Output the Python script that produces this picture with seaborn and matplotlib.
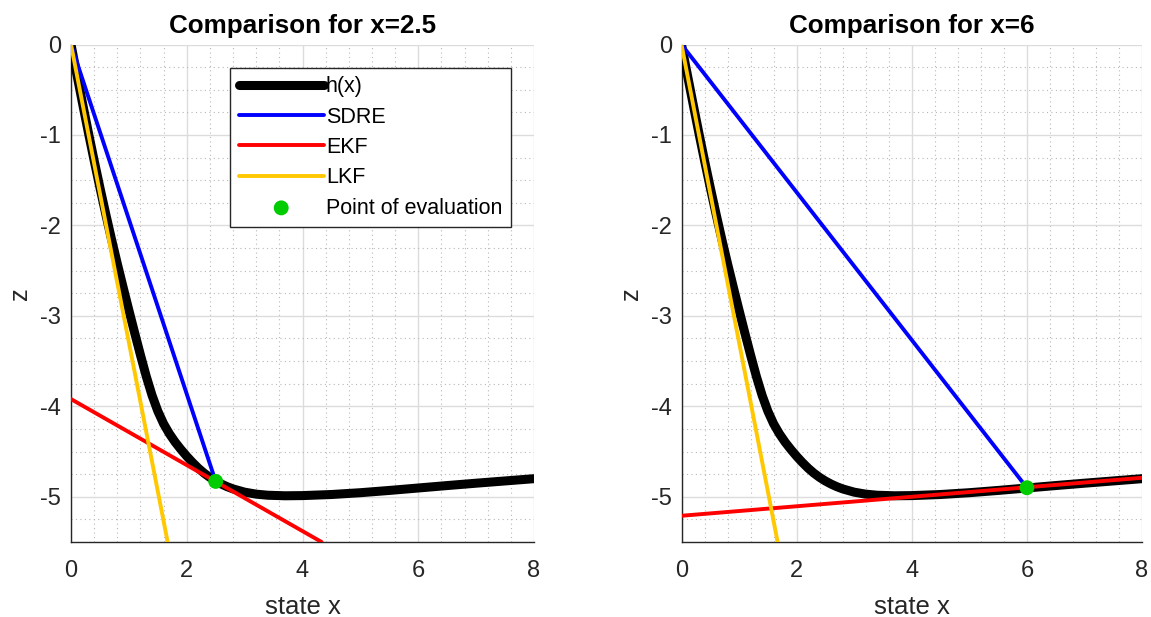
import matplotlib
matplotlib.use("Agg")
import matplotlib.pyplot as plt
from matplotlib.ticker import MultipleLocator
import seaborn as sns

# ---- data ----
h_x = [0, 0.1, 0.2, 0.3, 0.4, 0.5, 0.6, 0.7, 0.8, 0.9, 1.0, 1.1, 1.2, 1.3, 1.4,
       1.5, 1.6, 1.7, 1.8, 1.9, 2.0, 2.1, 2.2, 2.3, 2.4, 2.5, 2.6, 2.7, 2.8,
       3.0, 3.2, 3.4, 3.7, 4.0, 4.5, 5.0, 5.5, 6.0, 6.5, 7.0, 7.5, 8.0]
h_z = [0, -0.328, -0.653, -0.973, -1.283, -1.583, -1.873, -2.153, -2.423, -2.683,
       -2.938, -3.188, -3.433, -3.668, -3.878, -4.053, -4.193, -4.303, -4.396,
       -4.477, -4.552, -4.621, -4.684, -4.739, -4.786, -4.826, -4.860, -4.889,
       -4.913, -4.949, -4.971, -4.983, -4.989, -4.987, -4.975, -4.955, -4.930,
       -4.903, -4.876, -4.850, -4.825, -4.800]

eval_x = [2.5, 6.0]
eval_z = [-4.83, -4.90]

sdre_x = [[0, 2.5], [0, 6.0]]
sdre_z = [[0, -4.83], [0, -4.90]]

ekf_x = [[0, 4.33], [0, 8.0]]
ekf_z = [[-3.92, -5.5], [-5.21, -4.79]]

lkf_x = [0, 1.67]
lkf_z = [0, -5.5]

titles = ["Comparison for x=2.5", "Comparison for x=6"]
x_ticks = [0, 2, 4, 6, 8]
y_ticks = [0, -1, -2, -3, -4, -5]

# ---- styling ----
sns.set_style("white")
plt.rcParams["font.family"] = ["Liberation Sans", "DejaVu Sans"]
plt.rcParams["axes.unicode_minus"] = False

TXT = "#262626"
W, H = 1151, 617
fig = plt.figure(figsize=(W / 100, H / 100), dpi=100)
bottom = 1 - 542 / H
height = (542 - 44.5) / H
ax1 = fig.add_axes([71 / W, bottom, 463 / W, height])
ax2 = fig.add_axes([681.5 / W, bottom, (1142 - 681.5) / W, height])

for i, ax in enumerate([ax1, ax2]):
    sns.lineplot(x=h_x, y=h_z, ax=ax, color="black", lw=6.5, sort=False,
                 estimator=None, label="h(x)", zorder=3)
    sns.lineplot(x=sdre_x[i], y=sdre_z[i], ax=ax, color="#0000FF", lw=2.8,
                 sort=False, estimator=None, label="SDRE", zorder=4)
    sns.lineplot(x=ekf_x[i], y=ekf_z[i], ax=ax, color="#FF0000", lw=2.8,
                 sort=False, estimator=None, label="EKF", zorder=5)
    sns.lineplot(x=lkf_x, y=lkf_z, ax=ax, color="#FFC800", lw=2.8,
                 sort=False, estimator=None, label="LKF", zorder=6)
    sns.scatterplot(x=[eval_x[i]], y=[eval_z[i]], ax=ax, color="#00CC00", s=115,
                    edgecolor="none", label="Point of evaluation", zorder=7)
    for ln in ax.get_lines():
        ln.set_solid_joinstyle("round")

    ax.set_xlim(0, 8)
    ax.set_ylim(-5.5, 0)
    ax.set_xticks(x_ticks)
    ax.set_yticks(y_ticks)
    ax.xaxis.set_minor_locator(MultipleLocator(0.4))
    ax.yaxis.set_minor_locator(MultipleLocator(0.25))
    ax.set_axisbelow(True)
    ax.grid(which="major", color="#dcdcdc", lw=1.0)
    ax.grid(which="minor", color="#b8b8b8", lw=0.8, ls=(0, (1, 3)))
    ax.tick_params(which="major", direction="in", length=5, width=1, color=TXT,
                   labelsize=17, labelcolor=TXT)
    ax.tick_params(axis="x", which="major", pad=13)
    ax.tick_params(axis="y", which="major", pad=7)
    ax.tick_params(which="minor", length=0)
    for s in ["top", "right"]:
        ax.spines[s].set_visible(False)
    for s in ["left", "bottom"]:
        ax.spines[s].set_color(TXT)
        ax.spines[s].set_linewidth(1.0)
    ax.set_title(titles[i], fontsize=18.7, fontweight="bold", color="black", pad=8)
    ax.set_xlabel("state x", fontsize=18.5, color=TXT, labelpad=9)
    ax.set_ylabel("z", fontsize=18.5, color=TXT, labelpad=6)

    handles, labels = ax.get_legend_handles_labels()
    if i == 0:
        leg = ax.legend(handles, labels, loc="upper right", bbox_to_anchor=(0.95, 0.953),
                        fontsize=15.5, frameon=True, fancybox=False, framealpha=1,
                        edgecolor=TXT, handlelength=3.95, handletextpad=0.1,
                        labelspacing=0.43, borderpad=0.4, borderaxespad=0)
        leg.get_frame().set_linewidth(1.0)
        for t in leg.get_texts():
            t.set_color("black")
    else:
        ax.get_legend().remove()

fig.savefig("out.png", dpi=100)
